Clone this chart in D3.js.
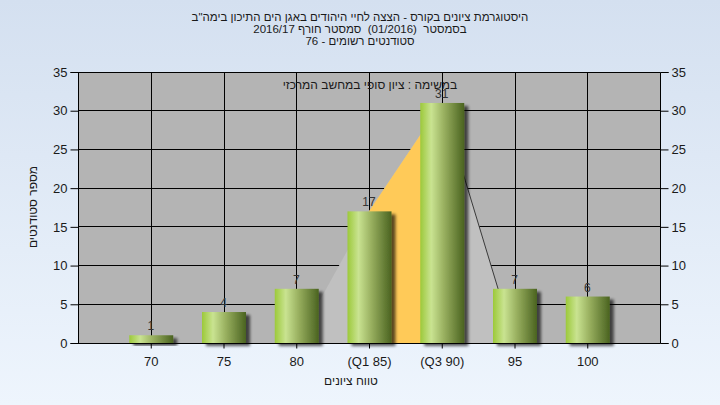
<!DOCTYPE html>
<html><head><meta charset="utf-8">
<script src="https://cdn.jsdelivr.net/npm/d3@7"></script>
<style>body{margin:0;}svg{display:block;font-family:"Liberation Sans",Arial,sans-serif;}</style>
</head><body>
<svg id="c" width="720" height="405"></svg>
<script>
const titleLines = ["היסטוגרמת ציונים בקורס - הצצה לחיי היהודים באגן הים התיכון בימה\"ב", "בסמסטר  (01/2016)  סמסטר חורף 2016/17", "סטודנטים רשומים - 76"];
const categories = ["70", "75", "80", "(Q1 85)", "(Q3 90)", "95", "100"];
const counts = [1, 4, 7, 17, 31, 7, 6];
const yTicks = [0, 5, 10, 15, 20, 25, 30, 35];
const curveCats = ["80", "(Q1 85)", "(Q3 90)", "95"];
const curveVals = [0, 17, 31, 0];
const note = "במשימה : ציון סופי במחשב המרכזי";
const yLabel = "מספר סטודנטים";
const xLabel = "טווח ציונים";

const svg = d3.select("#c");
const W = 720, H = 405;
const m = {l: 78, r: 60, t: 72, b: 62};
const x0 = m.l, x1 = W - m.r, y0 = H - m.b, y1 = m.t;

const defs = svg.append("defs");
const bg = defs.append("linearGradient").attr("id", "bg").attr("x1", 0).attr("y1", 0).attr("x2", 0).attr("y2", 1);
bg.append("stop").attr("offset", "0%").attr("stop-color", "#d4e0f0");
bg.append("stop").attr("offset", "100%").attr("stop-color", "#eef5fd");
const bar = defs.append("linearGradient").attr("id", "bar").attr("x1", 0).attr("y1", 0).attr("x2", 1).attr("y2", 0);
[["0%", "#9cc93a"], ["25%", "#c9e391"], ["55%", "#97ae5e"], ["100%", "#4a6320"]].forEach(s =>
  bar.append("stop").attr("offset", s[0]).attr("stop-color", s[1]));
const sh = defs.append("filter").attr("id", "sh").attr("x", "-20%").attr("y", "-20%").attr("width", "150%").attr("height", "150%");
sh.append("feGaussianBlur").attr("in", "SourceAlpha").attr("stdDeviation", 1.8).attr("result", "b");
sh.append("feOffset").attr("in", "b").attr("dx", 4).attr("dy", 3).attr("result", "o");
sh.append("feComponentTransfer").attr("in", "o").attr("result", "o2").append("feFuncA").attr("type", "linear").attr("slope", 0.65);
const mg = sh.append("feMerge");
mg.append("feMergeNode").attr("in", "o2");
mg.append("feMergeNode").attr("in", "SourceGraphic");

svg.append("rect").attr("width", W).attr("height", H).attr("fill", "url(#bg)");

const x = d3.scalePoint().domain(categories).range([x0, x1]).padding(1);
const y = d3.scaleLinear().domain([0, 35]).range([y0, y1]);

// plot background
svg.append("rect").attr("x", x0).attr("y", y1).attr("width", x1 - x0).attr("height", y0 - y1).attr("fill", "#b4b4b4");

// gridlines
svg.append("g").selectAll("line").data(yTicks).join("line")
  .attr("x1", x0).attr("x2", x1).attr("y1", d => y(d)).attr("y2", d => y(d))
  .attr("stroke", "#000").attr("stroke-width", 1).attr("shape-rendering", "crispEdges");
svg.append("g").selectAll("line").data(categories).join("line")
  .attr("x1", d => Math.round(x(d)) + 0.5).attr("x2", d => Math.round(x(d)) + 0.5).attr("y1", y1).attr("y2", y0)
  .attr("stroke", "#000").attr("stroke-width", 1);

// distribution area
const pts = curveCats.map((c, i) => [x(c), y(curveVals[i])]);
const area = d3.area().x(d => d[0]).y0(y(0)).y1(d => d[1]);
svg.append("path").attr("d", area(pts)).attr("fill", "#c0c0c0");
svg.append("path").attr("d", area(pts.slice(1, 3))).attr("fill", "#ffca58");
svg.append("path").attr("d", d3.line()(pts.slice(2, 4))).attr("fill", "none").attr("stroke", "#3a3a3a").attr("stroke-width", 1);

// bars
const bw = 44;
svg.append("g").selectAll("rect").data(counts).join("rect")
  .attr("x", (d, i) => x(categories[i]) - bw / 2 + 0.5)
  .attr("y", d => y(d)).attr("width", bw).attr("height", d => y0 - y(d))
  .attr("fill", "url(#bar)").attr("filter", "url(#sh)");

// value labels
svg.append("g").selectAll("text").data(counts).join("text")
  .attr("x", (d, i) => x(categories[i])).attr("y", d => y(d) - 5)
  .attr("text-anchor", "middle").attr("font-size", 12).attr("fill", "#333").text(d => d);

// axes
const axL = d3.axisLeft(y).tickValues(yTicks).tickSize(8).tickPadding(3);
const axR = d3.axisRight(y).tickValues(yTicks).tickSize(8).tickPadding(3);
const axB = d3.axisBottom(x).tickSize(5).tickPadding(8);
function style(g) {
  g.selectAll("path").attr("stroke", "#000");
  g.selectAll("line").attr("stroke", "#000");
  g.selectAll("text").attr("fill", "#1a1a1a").attr("font-size", 13).attr("font-family", "Liberation Sans, Arial, sans-serif");
}
svg.append("g").attr("transform", `translate(${x0 + 0.5},0)`).call(axL).call(g => g.select(".domain").attr("d", `M-8,${y1 + 0.5}H0V${y0 + 0.5}H-8`)).call(style);
svg.append("g").attr("transform", `translate(${x1 + 0.5},0)`).call(axR).call(g => g.select(".domain").attr("d", `M8,${y1 + 0.5}H0V${y0 + 0.5}H8`)).call(style);
svg.append("g").attr("transform", `translate(0,${y0 + 0.5})`).call(axB).call(g => g.select(".domain").attr("d", `M${x0},0H${x1}`)).call(style);

// titles
titleLines.forEach((t, i) => {
  svg.append("text").attr("x", 360).attr("y", 21 + i * 12).attr("text-anchor", "middle")
    .attr("direction", "rtl").attr("font-size", 11.5).attr("fill", "#1a1a1a")
    .style("white-space", "pre").text(t);
});
svg.append("text").attr("x", 370).attr("y", 89).attr("text-anchor", "middle").attr("direction", "rtl")
  .attr("font-size", 12).attr("fill", "#1a1a1a").text(note);
svg.append("text").attr("transform", "translate(37,207) rotate(-90)").attr("text-anchor", "middle").attr("direction", "rtl")
  .attr("font-size", 12).attr("fill", "#1a1a1a").text(yLabel);
svg.append("text").attr("x", 351).attr("y", 385).attr("text-anchor", "middle").attr("direction", "rtl")
  .attr("font-size", 12).attr("fill", "#1a1a1a").text(xLabel);
</script>
</body></html>
